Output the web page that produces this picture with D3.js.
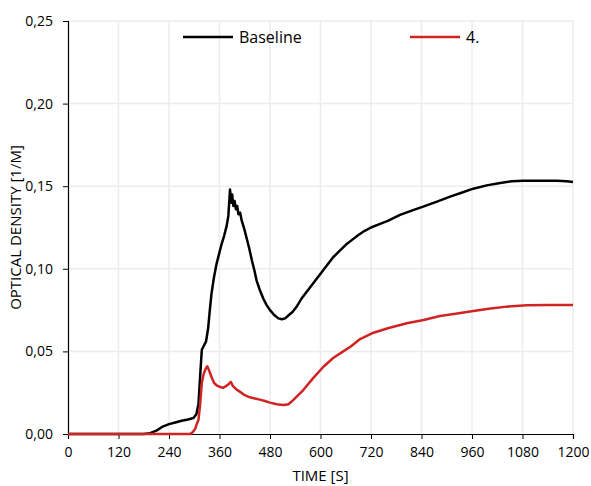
<!DOCTYPE html>
<html>
<head>
<meta charset="utf-8">
<script src="https://cdn.jsdelivr.net/npm/d3@7"></script>
<style>
  body { margin: 0; background: #fff; }
  svg { display: block; font-family: "Open Sans", Lato, sans-serif; }
</style>
</head>
<body>
<svg id="chart" width="591" height="486"></svg>
<script>
// time [s] and optical density [1/m]
var baselineTime = [0, 120, 180, 195, 210, 225, 240, 255, 270, 285, 298, 305, 310, 314, 318, 324, 328, 333, 337, 341, 347, 353, 359, 365, 371, 377, 381, 385, 388, 390, 393, 396, 399, 402, 405, 409, 413, 419, 425, 431, 437, 443, 448, 456, 464, 472, 480, 490, 500, 508, 516, 525, 534, 543, 555, 570, 585, 600, 615, 630, 646, 660, 675, 690, 705, 720, 740, 760, 789, 820, 844, 880, 908, 935, 963, 995, 1027, 1055, 1082, 1120, 1161, 1185, 1200];
var baselineOD = [0, 0, 0, 0.0005, 0.002, 0.0045, 0.006, 0.007, 0.008, 0.0088, 0.0097, 0.012, 0.018, 0.035, 0.051, 0.054, 0.056, 0.064, 0.075, 0.085, 0.095, 0.103, 0.109, 0.115, 0.120, 0.126, 0.132, 0.148, 0.140, 0.145, 0.138, 0.141, 0.136, 0.138, 0.133, 0.134, 0.129, 0.124, 0.118, 0.112, 0.105, 0.099, 0.093, 0.087, 0.082, 0.078, 0.075, 0.072, 0.070, 0.0695, 0.070, 0.072, 0.074, 0.077, 0.082, 0.087, 0.092, 0.097, 0.102, 0.107, 0.111, 0.1145, 0.1175, 0.1205, 0.123, 0.125, 0.127, 0.129, 0.1326, 0.1355, 0.1376, 0.141, 0.1437, 0.146, 0.1485, 0.1505, 0.152, 0.153, 0.1533, 0.1533, 0.1533, 0.153, 0.1525];

var case4Time = [0, 290, 296, 302, 306, 310, 314, 318, 322, 326, 331, 336, 341, 347, 353, 361, 369, 375, 381, 387, 392, 400, 409, 420, 432, 444, 456, 468, 480, 496, 512, 524, 535, 547, 559, 583, 607, 630, 654, 672, 694, 726, 760, 805, 845, 884, 925, 963, 1000, 1042, 1090, 1140, 1200];
var case4OD = [0, 0, 0.001, 0.003, 0.006, 0.0085, 0.018, 0.031, 0.036, 0.039, 0.041, 0.038, 0.0345, 0.031, 0.0295, 0.0285, 0.028, 0.029, 0.030, 0.0315, 0.029, 0.027, 0.0255, 0.0235, 0.0222, 0.0215, 0.0208, 0.020, 0.019, 0.018, 0.0175, 0.018, 0.0205, 0.0235, 0.0266, 0.034, 0.0407, 0.046, 0.050, 0.053, 0.0575, 0.0613, 0.064, 0.067, 0.069, 0.0714, 0.073, 0.0745, 0.0758, 0.0771, 0.078, 0.0781, 0.0781];

var xTicks = [0, 120, 240, 360, 480, 600, 720, 840, 960, 1080, 1200];
var yTicks = [0, 0.05, 0.10, 0.15, 0.20, 0.25];
var seriesNames = ["Baseline", "4."];
var seriesColors = ["#000000", "#d02424"];

(function () {
  var svg = d3.select('#chart');
  var m = { left: 68, right: 573, top: 21, bottom: 434 };

  var x = d3.scaleLinear().domain([0, 1200]).range([m.left, m.right]);
  var y = d3.scaleLinear().domain([0, 0.25]).range([m.bottom, m.top]);

  // grid
  svg.append('g')
    .selectAll('line')
    .data(xTicks.slice(1))
    .enter()
    .append('line')
    .attr('x1', function(d) { return x(d); })
    .attr('x2', function(d) { return x(d); })
    .attr('y1', m.top)
    .attr('y2', m.bottom)
    .attr('stroke', '#ececec')
    .attr('stroke-width', 1.5);
  svg.append('g')
    .selectAll('line')
    .data(yTicks.slice(1))
    .enter()
    .append('line')
    .attr('x1', m.left)
    .attr('x2', m.right)
    .attr('y1', function(d) { return y(d); })
    .attr('y2', function(d) { return y(d); })
    .attr('stroke', '#ececec')
    .attr('stroke-width', 1.5);

  // axes
  var fmt = function(d) { return d3.format('.2f')(d).replace('.', ','); };
  var xAxis = svg.append('g')
    .attr('transform', 'translate(0,' + m.bottom + ')')
    .call(d3.axisBottom(x).tickValues(xTicks).tickFormat(d3.format('d')).tickSize(5).tickPadding(8));
  var yAxis = svg.append('g')
    .attr('transform', 'translate(' + m.left + ',0)')
    .call(d3.axisLeft(y).tickValues(yTicks).tickFormat(fmt).tickSize(5).tickPadding(10));
  [xAxis, yAxis].forEach(function(a) {
    a.select('.domain').attr('stroke', '#000').attr('stroke-width', 1.2);
    a.selectAll('.tick line').attr('stroke', '#000');
    a.selectAll('text').attr('font-size', '14px').attr('fill', '#000')
      .attr('font-family', '"Open Sans", Lato, sans-serif');
  });

  // lines
  var line = d3.line()
    .x(function(d) { return x(d[0]); })
    .y(function(d) { return y(d[1]); });
  var series = [
    d3.zip(baselineTime, baselineOD),
    d3.zip(case4Time, case4OD)
  ];
  svg.selectAll('.series')
    .data(series)
    .enter()
    .append('path')
    .attr('class', 'series')
    .attr('d', line)
    .attr('fill', 'none')
    .attr('stroke', function(d, i) { return seriesColors[i]; })
    .attr('stroke-width', 2.5)
    .attr('stroke-linejoin', 'round');

  // legend
  var legendX = [183, 410];
  var legend = svg.selectAll('.legend')
    .data(seriesNames)
    .enter()
    .append('g')
    .attr('class', 'legend')
    .attr('transform', function(d, i) { return 'translate(' + legendX[i] + ',37)'; });
  legend.append('line')
    .attr('x1', 0).attr('x2', 50)
    .attr('stroke', function(d, i) { return seriesColors[i]; })
    .attr('stroke-width', 2.5);
  legend.append('text')
    .attr('x', 56)
    .attr('dy', '0.35em')
    .attr('font-size', '16px')
    .text(function(d) { return d; });

  // titles
  svg.append('text')
    .attr('x', (m.left + m.right) / 2)
    .attr('y', 481)
    .attr('text-anchor', 'middle')
    .attr('font-size', '15px')
    .text('TIME [S]');
  svg.append('text')
    .attr('transform', 'translate(21,' + ((m.top + m.bottom) / 2) + ') rotate(-90)')
    .attr('text-anchor', 'middle')
    .attr('font-size', '15px')
    .text('OPTICAL DENSITY [1/M]');
})();
</script>
</body>
</html>
